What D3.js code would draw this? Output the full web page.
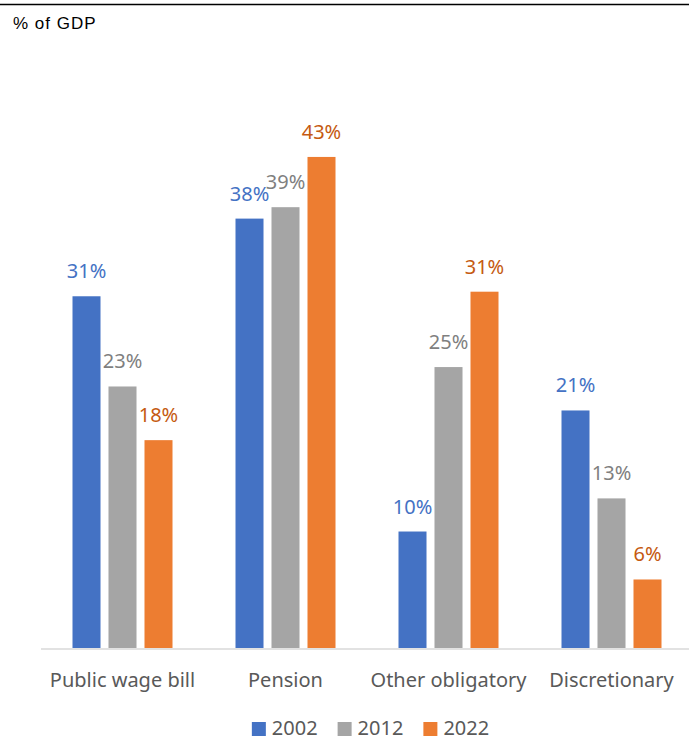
<!DOCTYPE html>
<html lang="en">
<head>
    <meta charset="UTF-8">
    <title>Spending composition, % of GDP</title>
    <script src="https://cdn.jsdelivr.net/npm/d3@7"></script>
    <style>
        html, body { margin: 0; padding: 0; background: #fff; }
        svg { display: block; }
    </style>
</head>
<body>
    <div id="chart"></div>

    <script>
        // Categories and series (% of GDP share)
        const categories = ['Public wage bill', 'Pension', 'Other obligatory', 'Discretionary'];
        const years = ['2002', '2012', '2022'];
        const values2002 = [30.8, 37.6, 10.2, 20.8];
        const values2012 = [22.9, 38.6, 24.6, 13.1];
        const values2022 = [18.2, 43.0, 31.2, 6.0];
        const seriesValues = [values2002, values2012, values2022];

        const barColors = ['#4472C4', '#A5A5A5', '#ED7D31'];
        const labelColors = ['#4472C4', '#7F7F7F', '#C55A11'];

        const width = 689;
        const height = 741;
        const baseY = 648;

        const svg = d3.select('#chart')
            .append('svg')
            .attr('width', width)
            .attr('height', height);

        // top rule + unit note
        svg.append('line')
            .attr('x1', 0).attr('x2', width)
            .attr('y1', 4.5).attr('y2', 4.5)
            .attr('stroke', '#000')
            .attr('stroke-width', 1.5);

        svg.append('text')
            .attr('x', 13)
            .attr('y', 29)
            .attr('font-family', 'Liberation Sans, Arial, sans-serif')
            .attr('font-size', '17px')
            .attr('letter-spacing', '1px')
            .attr('fill', '#000')
            .text('% of GDP');

        // scales
        const x0 = d3.scaleBand()
            .domain(categories)
            .range([41, 693])
            .paddingInner(0)
            .paddingOuter(0);

        const groupW = 100;
        const x1 = d3.scaleBand()
            .domain(years)
            .range([(x0.bandwidth() - groupW) / 2, (x0.bandwidth() + groupW) / 2])
            .paddingInner(0.222)
            .paddingOuter(0);

        const y = d3.scaleLinear()
            .domain([0, 50])
            .range([baseY, 77]);

        // flatten into rows for drawing
        const rows = [];
        categories.forEach((cat, ci) => {
            years.forEach((yr, si) => {
                rows.push({ cat, yr, si, v: seriesValues[si][ci] });
            });
        });

        const bars = svg.append('g').attr('class', 'bars');

        bars.selectAll('rect')
            .data(rows)
            .join('rect')
            .attr('x', d => x0(d.cat) + x1(d.yr))
            .attr('y', d => y(d.v))
            .attr('width', x1.bandwidth())
            .attr('height', d => y(0) - y(d.v))
            .attr('fill', d => barColors[d.si]);

        // data labels
        bars.selectAll('text')
            .data(rows)
            .join('text')
            .attr('x', d => x0(d.cat) + x1(d.yr) + x1.bandwidth() / 2)
            .attr('y', d => y(d.v) - 18)
            .attr('text-anchor', 'middle')
            .attr('font-family', 'Noto Sans, Open Sans, sans-serif')
            .attr('font-size', '20px')
            .attr('fill', d => labelColors[d.si])
            .text(d => Math.round(d.v) + '%');

        // x axis line
        svg.append('line')
            .attr('x1', 41).attr('x2', width)
            .attr('y1', baseY + 1).attr('y2', baseY + 1)
            .attr('stroke', '#D9D9D9')
            .attr('stroke-width', 1.5);

        // category labels
        svg.append('g')
            .selectAll('text')
            .data(categories)
            .join('text')
            .attr('x', d => x0(d) + x0.bandwidth() / 2)
            .attr('y', 687)
            .attr('text-anchor', 'middle')
            .attr('font-family', 'Noto Sans, Open Sans, sans-serif')
            .attr('font-size', '20px')
            .attr('fill', '#595959')
            .text(d => d);

        // legend
        const legend = svg.append('g').attr('class', 'legend');
        let lx = 0;
        years.forEach((yr, i) => {
            const item = legend.append('g').attr('transform', `translate(${lx},0)`);
            item.append('rect')
                .attr('x', 0).attr('y', -13)
                .attr('width', 14).attr('height', 14)
                .attr('fill', barColors[i]);
            const t = item.append('text')
                .attr('x', 20)
                .attr('y', 0)
                .attr('font-family', 'Noto Sans, Open Sans, sans-serif')
                .attr('font-size', '20px')
                .attr('fill', '#595959')
                .text(yr);
            lx += 20 + t.node().getComputedTextLength() + 20;
        });
        const legendW = lx - 20;
        legend.attr('transform', `translate(${370.5 - legendW / 2},735)`);
    </script>
</body>
</html>
